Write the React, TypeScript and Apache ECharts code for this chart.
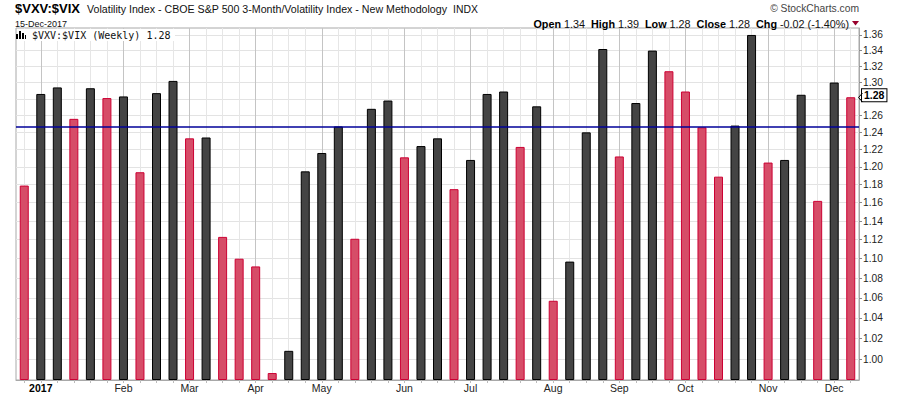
import React, { useEffect, useRef } from 'react';
import * as echarts from 'echarts';

// Weekly bars (week starting Monday) for $VXV:$VIX
const weekStarts: string[] = [
  '2016-12-26',
  '2017-01-02', '2017-01-09', '2017-01-16', '2017-01-23', '2017-01-30',
  '2017-02-06', '2017-02-13', '2017-02-20', '2017-02-27',
  '2017-03-06', '2017-03-13', '2017-03-20', '2017-03-27',
  '2017-04-03', '2017-04-10', '2017-04-17', '2017-04-24',
  '2017-05-01', '2017-05-08', '2017-05-15', '2017-05-22', '2017-05-29',
  '2017-06-05', '2017-06-12', '2017-06-19', '2017-06-26',
  '2017-07-03', '2017-07-10', '2017-07-17', '2017-07-24', '2017-07-31',
  '2017-08-07', '2017-08-14', '2017-08-21', '2017-08-28',
  '2017-09-04', '2017-09-11', '2017-09-18', '2017-09-25',
  '2017-10-02', '2017-10-09', '2017-10-16', '2017-10-23', '2017-10-30',
  '2017-11-06', '2017-11-13', '2017-11-20', '2017-11-27',
  '2017-12-04', '2017-12-11',
];

const weeklyCloses: number[] = [
  1.179, 1.286, 1.294, 1.256, 1.293, 1.281, 1.283, 1.194, 1.287, 1.302,
  1.233, 1.234, 1.123, 1.100, 1.092, 0.987, 1.008, 1.195, 1.216, 1.247,
  1.121, 1.268, 1.278, 1.211, 1.224, 1.233, 1.175, 1.208, 1.286, 1.289,
  1.223, 1.271, 1.057, 1.097, 1.240, 1.342, 1.212, 1.275, 1.340, 1.314,
  1.289, 1.246, 1.189, 1.248, 1.360, 1.205, 1.208, 1.285, 1.162, 1.300,
  1.282,
];
const firstBarDown = true;

const referenceLevel = 1.25;
const yTickValues: number[] = [
  1.00, 1.02, 1.04, 1.06, 1.08, 1.10, 1.12, 1.14, 1.16, 1.18,
  1.20, 1.22, 1.24, 1.26, 1.28, 1.30, 1.32, 1.34, 1.36,
];
const axisFloor = 0.9805;
const axisCeil = 1.369;

const monthNames = ['Jan', 'Feb', 'Mar', 'Apr', 'May', 'Jun', 'Jul', 'Aug', 'Sep', 'Oct', 'Nov', 'Dec'];

const titleSymbol = '$VXV:$VIX';
const titleName = 'Volatility Index - CBOE S&P 500 3-Month/Volatility Index - New Methodology';
const exchange = 'INDX';
const dateText = '15-Dec-2017';
const watermark = '\u00A9 StockCharts.com';
const quote = { open: '1.34', high: '1.39', low: '1.28', close: '1.28', chg: '-0.02', chgPct: '(-1.40%)' };
const legendText = '$VXV:$VIX (Weekly) 1.28';

const FONT = "'Liberation Sans', Arial, sans-serif";
const RED_FILL = '#d64d68';
const RED_EDGE = '#cc0033';
const BLACK_FILL = '#444444';
const BLACK_EDGE = '#000000';

const t = (v: number) => Math.log(v / axisFloor);
const fromT = (x: number) => axisFloor * Math.exp(x);

const isPeriodStart = (i: number) =>
  i > 0 && weekStarts[i].slice(0, 7) !== weekStarts[i - 1].slice(0, 7);
const isYearStart = (i: number) =>
  i > 0 && weekStarts[i].slice(0, 4) !== weekStarts[i - 1].slice(0, 4);

function buildOption(): any {
  const barData = weeklyCloses.map((v, i) => {
    const down = i === 0 ? firstBarDown : v < weeklyCloses[i - 1];
    return {
      value: t(v),
      itemStyle: {
        color: down ? RED_FILL : BLACK_FILL,
        borderColor: down ? RED_EDGE : BLACK_EDGE,
        borderWidth: 1,
      },
    };
  });
  const lastClose = weeklyCloses[weeklyCloses.length - 1];
  const tickT = yTickValues.map(t);
  // the last-close tag covers the axis label that it sits on
  const labelT = yTickValues.filter((v) => Math.abs(v - lastClose) > 0.009).map(t);

  return {
    animation: false,
    backgroundColor: '#ffffff',
    textStyle: { fontFamily: FONT },
    grid: {
      left: 16, right: 41, top: 28, bottom: 16,
      show: true, borderColor: '#a8a8a8', borderWidth: 1, backgroundColor: 'transparent',
    },
    xAxis: [
      {
        type: 'category',
        data: weekStarts,
        boundaryGap: true,
        axisLine: { show: true, lineStyle: { color: '#a8a8a8', width: 1 } },
        axisTick: { show: true, alignWithLabel: true, interval: 0, length: 3, lineStyle: { color: '#bbbbbb' } },
        axisLabel: {
          interval: (i: number) => isPeriodStart(i),
          margin: 2,
          fontSize: 10.5,
          color: '#222',
          fontFamily: FONT,
          formatter: (val: string, i: number) => {
            if (isYearStart(i)) return '{y|' + val.slice(0, 4) + '}';
            return monthNames[parseInt(val.slice(5, 7), 10) - 1];
          },
          rich: { y: { fontWeight: 'bold', fontSize: 10.5, color: '#000', fontFamily: FONT } },
        },
        splitLine: {
          show: true, alignWithLabel: true, interval: 0,
          lineStyle: { color: '#e6e6e6', width: 1 },
        },
      },
      {
        type: 'category',
        data: weekStarts,
        boundaryGap: true,
        position: 'bottom',
        axisLine: { show: false },
        axisTick: { show: false, alignWithLabel: true },
        axisLabel: { show: false },
        splitLine: {
          show: true, alignWithLabel: true,
          interval: (i: number) => isPeriodStart(i),
          lineStyle: { color: '#c4c4c4', width: 1 },
        },
      },
    ],
    yAxis: {
      type: 'value',
      position: 'right',
      min: 0,
      max: t(axisCeil),
      axisLine: { show: true, lineStyle: { color: '#a8a8a8', width: 1 } },
      axisTick: { show: true, length: 3, customValues: tickT, lineStyle: { color: '#888' } },
      axisLabel: {
        customValues: labelT,
        margin: 4,
        fontSize: 10.2,
        color: '#222',
        fontFamily: FONT,
        formatter: (v: number) => fromT(v).toFixed(2),
      },
      splitLine: { show: true, lineStyle: { color: '#e3e3e3', width: 1 } },
    },
    series: [
      {
        type: 'bar',
        xAxisIndex: 0,
        barWidth: 9,
        data: barData,
        markLine: {
          silent: true,
          symbol: 'none',
          animation: false,
          data: [
            {
              yAxis: t(referenceLevel),
              lineStyle: { color: '#000099', width: 1.5, type: 'solid' },
              label: { show: false },
            },
            {
              yAxis: t(lastClose),
              lineStyle: { color: 'rgba(0,0,0,0)', width: 0.01, type: 'solid' },
              label: {
                show: true,
                position: 'end',
                distance: 3,
                formatter: lastClose.toFixed(2),
                fontFamily: FONT,
                fontWeight: 'bold',
                fontSize: 10.5,
                color: '#000',
                opacity: 1,
                backgroundColor: '#ffffff',
                borderColor: '#000000',
                borderWidth: 1,
                padding: [1, 2, 0, 2],
              },
            },
          ],
        },
      },
    ],
    graphic: [
      {
        type: 'text', x: 15, y: 8, z: 100,
        style: {
          text: titleSymbol, fill: '#000', fontFamily: FONT, fontWeight: 'bold', fontSize: 13,
          verticalAlign: 'middle', align: 'left',
        },
      },
      {
        type: 'text', x: 87, y: 9, z: 100,
        style: {
          text: titleName, fill: '#111', fontFamily: FONT, fontSize: 10.65,
          verticalAlign: 'middle', align: 'left',
        },
      },
      {
        type: 'text', x: 453, y: 9, z: 100,
        style: { text: exchange, fill: '#111', fontFamily: FONT, fontSize: 10.4, verticalAlign: 'middle', align: 'left' },
      },
      {
        type: 'text', x: 15, y: 23.5, z: 100,
        style: { text: dateText, fill: '#111', fontFamily: FONT, fontSize: 9, verticalAlign: 'middle', align: 'left' },
      },
      {
        type: 'text', x: 859, y: 8.5, z: 100,
        style: { text: watermark, fill: '#444', fontFamily: FONT, fontSize: 10.3, verticalAlign: 'middle', align: 'right' },
      },
      {
        type: 'text', x: 849, y: 23.5, z: 100,
        style: {
          text:
            '{b|Open} ' + quote.open + '  {b|High} ' + quote.high + '  {b|Low} ' + quote.low +
            '  {b|Close} ' + quote.close + '  {b|Chg} ' + quote.chg + ' ' + quote.chgPct,
          fill: '#111', fontFamily: FONT, fontSize: 10.8, verticalAlign: 'middle', align: 'right',
          rich: { b: { fontWeight: 'bold', fontSize: 10.8, fontFamily: FONT, fill: '#000' } },
        },
      },
      {
        type: 'polygon', z: 100,
        shape: { points: [[852, 21], [859, 21], [855.5, 25.5]] },
        style: { fill: '#99002b' },
      },
      {
        type: 'polyline', z: 100,
        shape: { points: [[862.5, 93], [858.5, 97.5], [862.5, 102]] },
        style: { stroke: '#000000', lineWidth: 1, fill: null },
      },
      {
        type: 'rect', z: 99,
        shape: { x: 17, y: 29, width: 158, height: 12 },
        style: { fill: '#ffffff' },
      },
      { type: 'rect', z: 100, shape: { x: 16, y: 34, width: 2, height: 5 }, style: { fill: '#000' } },
      { type: 'rect', z: 100, shape: { x: 19, y: 31, width: 2, height: 8 }, style: { fill: '#000' } },
      { type: 'rect', z: 100, shape: { x: 22, y: 33, width: 2, height: 6 }, style: { fill: '#000' } },
      { type: 'rect', z: 100, shape: { x: 25, y: 35, width: 1, height: 4 }, style: { fill: '#000' } },
      {
        type: 'text', x: 32, y: 35, z: 100,
        style: {
          text: legendText, fill: '#111', fontFamily: "'DejaVu Sans Mono', monospace", fontSize: 10,
          verticalAlign: 'middle', align: 'left',
        },
      },
    ],
  };
}

export default function App() {
  const ref = useRef<HTMLDivElement>(null);
  useEffect(() => {
    if (!ref.current) return;
    const chart = echarts.init(ref.current, null, { renderer: 'svg' });
    chart.setOption(buildOption());
    return () => chart.dispose();
  }, []);
  return (
    <div
      ref={ref}
      style={{ position: 'fixed', left: 0, top: 0, width: 900, height: 396, background: '#ffffff' }}
    />
  );
}
